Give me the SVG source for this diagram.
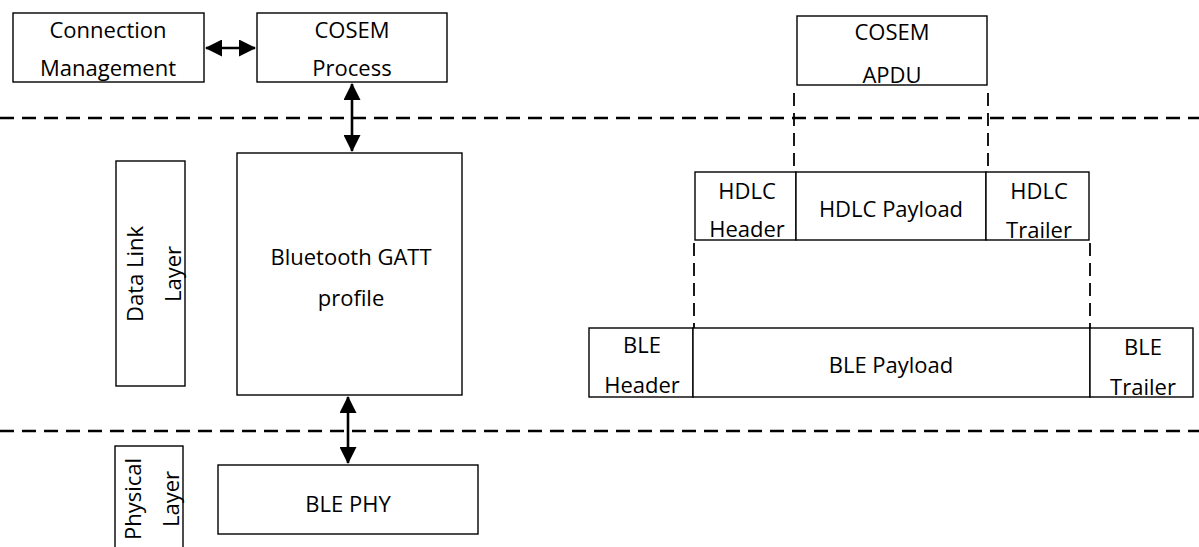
<svg xmlns="http://www.w3.org/2000/svg" width="1199" height="547" viewBox="0 0 1199 547">
<style>
.box{fill:#fff;stroke:#000;stroke-width:1.4}
.t{font-family:"Open Sans","Noto Sans","DejaVu Sans",sans-serif;font-size:22px;fill:#000;text-anchor:middle}
.hd{stroke:#000;stroke-width:2.5;stroke-dasharray:14 8;fill:none}
.vd{stroke:#000;stroke-width:1.8;stroke-dasharray:13 7;fill:none}
.ar{stroke:#000;stroke-width:2.6;fill:none}
</style>
<defs>
<marker id="ah" markerUnits="userSpaceOnUse" markerWidth="17" markerHeight="17" viewBox="0 0 17 17" refX="16" refY="8.5" orient="auto-start-reverse">
<path d="M0,0 L17,8.5 L0,17 Z" fill="#000"/>
</marker>
</defs>
<rect width="1199" height="547" fill="#fff"/>
<g id="layer-lines">
<line class="hd" x1="0" y1="118" x2="1199" y2="118"/>
<line class="hd" x1="0" y1="431" x2="1199" y2="431"/>
</g>
<g id="connection-management">
<rect class="box" x="13" y="13" width="191" height="69"/>
<text class="t" x="108" y="38">Connection</text>
<text class="t" x="108" y="76">Management</text>
</g>
<g id="cosem-process">
<rect class="box" x="257" y="13" width="190" height="69"/>
<text class="t" x="352" y="38">COSEM</text>
<text class="t" x="352" y="76">Process</text>
</g>
<g id="gatt-profile">
<rect class="box" x="237" y="153" width="225" height="242"/>
<text class="t" x="351" y="265">Bluetooth GATT</text>
<text class="t" x="351" y="306">profile</text>
</g>
<g id="ble-phy">
<rect class="box" x="218" y="465" width="260" height="69"/>
<text class="t" x="348" y="512">BLE PHY</text>
</g>
<g id="data-link-layer">
<rect class="box" x="116" y="161" width="69" height="225"/>
<text class="t" transform="translate(143,274) rotate(-90)">Data Link</text>
<text class="t" transform="translate(181,274) rotate(-90)">Layer</text>
</g>
<g id="physical-layer">
<rect class="box" x="115" y="446" width="68" height="120"/>
<text class="t" transform="translate(141,499) rotate(-90)">Physical</text>
<text class="t" transform="translate(179,499) rotate(-90)">Layer</text>
</g>
<g id="cosem-apdu">
<rect class="box" x="797" y="16" width="190" height="69"/>
<text class="t" x="892" y="40">COSEM</text>
<text class="t" x="892" y="83">APDU</text>
</g>
<g id="hdlc-frame">
<rect class="box" x="695" y="172" width="101" height="68"/>
<rect class="box" x="796" y="172" width="190" height="68"/>
<rect class="box" x="986" y="172" width="103" height="68"/>
<text class="t" x="747" y="199">HDLC</text>
<text class="t" x="747" y="237">Header</text>
<text class="t" x="891" y="217">HDLC Payload</text>
<text class="t" x="1039" y="199">HDLC</text>
<text class="t" x="1039" y="238">Trailer</text>
</g>
<g id="ble-frame">
<rect class="box" x="589" y="328" width="104" height="69"/>
<rect class="box" x="693" y="328" width="397" height="69"/>
<rect class="box" x="1090" y="328" width="103" height="69"/>
<text class="t" x="642" y="353">BLE</text>
<text class="t" x="642" y="393">Header</text>
<text class="t" x="891" y="373">BLE Payload</text>
<text class="t" x="1143" y="355">BLE</text>
<text class="t" x="1143" y="395">Trailer</text>
</g>
<g id="connectors">
<line class="ar" x1="206" y1="48" x2="255" y2="48" marker-start="url(#ah)" marker-end="url(#ah)"/>
<line class="ar" x1="352" y1="84" x2="352" y2="151" marker-start="url(#ah)" marker-end="url(#ah)"/>
<line class="ar" x1="348" y1="397" x2="348" y2="463" marker-start="url(#ah)" marker-end="url(#ah)"/>
<line class="vd" x1="794" y1="93" x2="794" y2="172"/>
<line class="vd" x1="988" y1="93" x2="988" y2="172"/>
<line class="vd" x1="694" y1="243" x2="694" y2="328"/>
<line class="vd" x1="1090" y1="243" x2="1090" y2="328"/>
</g>
</svg>
